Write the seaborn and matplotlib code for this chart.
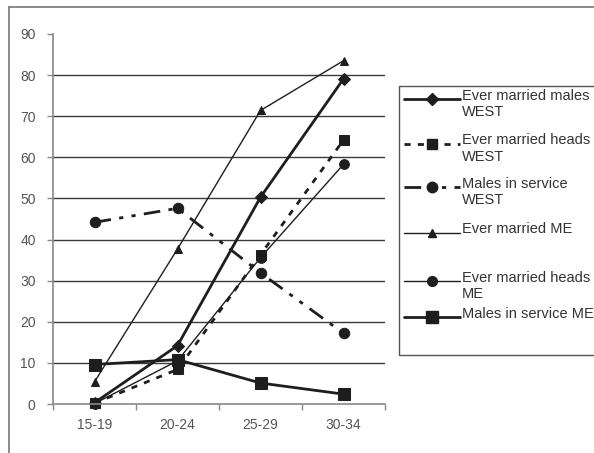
import matplotlib
matplotlib.use("Agg")
import matplotlib.pyplot as plt
from matplotlib.lines import Line2D
from matplotlib.patches import Rectangle
from matplotlib.ticker import FixedLocator, NullFormatter
import pandas as pd
import seaborn as sns

# Age groups and percentages for each series
age_groups = ["15-19", "20-24", "25-29", "30-34"]
ever_married_males_west = [0.3, 14.2, 50.3, 79.1]
ever_married_heads_west = [0.2, 8.4, 36.3, 64.2]
males_in_service_west = [44.2, 47.6, 31.9, 17.2]
ever_married_me = [5.4, 37.7, 71.4, 83.5]
ever_married_heads_me = [0.1, 10.5, 35.6, 58.3]
males_in_service_me = [9.6, 10.8, 5.1, 2.4]

series_labels = [
    "Ever married males\nWEST",
    "Ever married heads\nWEST",
    "Males in service\nWEST",
    "Ever married ME",
    "Ever married heads\nME",
    "Males in service ME",
]
series_values = [
    ever_married_males_west,
    ever_married_heads_west,
    males_in_service_west,
    ever_married_me,
    ever_married_heads_me,
    males_in_service_me,
]

INK = "#1e1e1e"
# line width, dash pattern (None = solid), marker, marker size
styles = [
    dict(lw=2.0, dashes=None, marker="D", ms=6.0),
    dict(lw=2.0, dashes=(2.2, 2.6), marker="s", ms=7.0),
    dict(lw=2.0, dashes=(6, 3, 1.5, 3, 1.5, 3), marker="o", ms=7.5),
    dict(lw=1.0, dashes=None, marker="^", ms=6.0),
    dict(lw=1.0, dashes=None, marker="o", ms=7.0),
    dict(lw=2.0, dashes=None, marker="s", ms=9.0),
]

sns.set_style("white")
plt.rcParams["font.family"] = ["Liberation Sans", "DejaVu Sans"]

W, H = 594, 453
fig = plt.figure(figsize=(W / 100, H / 100), dpi=100)


def fx(px):
    return px / W


def fy(py):
    return 1 - py / H


# plot area in pixel terms
left, right, top, bottom = 53, 385, 34, 404
ax = fig.add_axes([fx(left), fy(bottom), fx(right - left), (bottom - top) / H])

for vals, st in zip(series_values, styles):
    df = pd.DataFrame({"age": age_groups, "pct": vals})
    sns.lineplot(data=df, x="age", y="pct", ax=ax, sort=False, color=INK,
                 lw=st["lw"], marker=st["marker"], markersize=st["ms"],
                 markeredgecolor=INK, markerfacecolor=INK, legend=False)
    line = ax.lines[-1]
    if st["dashes"] is not None:
        line.set_dashes(st["dashes"])
    line.set_clip_on(False)

ax.set_xlim(-0.5, 3.5)
ax.set_ylim(0, 90)
ax.set_xlabel("")
ax.set_ylabel("")

# horizontal gridlines from 10 to 80
for yv in range(10, 90, 10):
    ax.axhline(yv, color="#3a3a3a", lw=1.0, zorder=0)

ax.yaxis.set_major_locator(FixedLocator(list(range(0, 100, 10))))
ax.xaxis.set_major_locator(FixedLocator([-0.5, 0.5, 1.5, 2.5, 3.5]))
ax.xaxis.set_major_formatter(NullFormatter())
ax.xaxis.set_minor_locator(FixedLocator([0, 1, 2, 3]))
ax.set_xticklabels(age_groups, minor=True)
ax.tick_params(axis="x", which="major", direction="out", length=4, width=1,
               color="#888888", bottom=True)
ax.tick_params(axis="x", which="minor", length=0, pad=10, labelsize=10,
               labelcolor="#555555")
ax.tick_params(axis="y", direction="out", length=4.5, width=1, color="#888888",
               left=True, pad=8, labelsize=10, labelcolor="#555555")

for s in ["top", "right"]:
    ax.spines[s].set_visible(False)
for s in ["left", "bottom"]:
    ax.spines[s].set_color("#888888")
    ax.spines[s].set_linewidth(1.2)

# outer chart frame (left and top edges visible)
fig.add_artist(Line2D([fx(9), fx(9)], [fy(7), 0], transform=fig.transFigure,
                      color="#777777", lw=1.2))
fig.add_artist(Line2D([fx(9), 1], [fy(7), fy(7)], transform=fig.transFigure,
                      color="#777777", lw=1.2))

# legend box
lx0, ly0, ly1 = 399, 86, 355
fig.add_artist(Rectangle((fx(lx0), fy(ly1)), fx(W + 10 - lx0), (ly1 - ly0) / H,
                         transform=fig.transFigure, fill=False,
                         edgecolor="#555555", lw=1.0))
entry_y = [99, 144, 187, 233, 281, 317]
for lab, st, yy in zip(series_labels, styles, entry_y):
    h = Line2D([fx(404), fx(460)], [fy(yy), fy(yy)], transform=fig.transFigure,
               color=INK, lw=st["lw"])
    if st["dashes"] is not None:
        h.set_dashes(st["dashes"])
    fig.add_artist(h)
    fig.add_artist(Line2D([fx(432)], [fy(yy)], transform=fig.transFigure,
                          ls="none", marker=st["marker"], markersize=st["ms"],
                          markeredgecolor=INK, markerfacecolor=INK))
    fig.text(fx(462), fy(yy - 10.5), lab, ha="left", va="top", fontsize=10.5,
             color="#333333", linespacing=1.2, transform=fig.transFigure)

fig.savefig("out.png", dpi=100)
